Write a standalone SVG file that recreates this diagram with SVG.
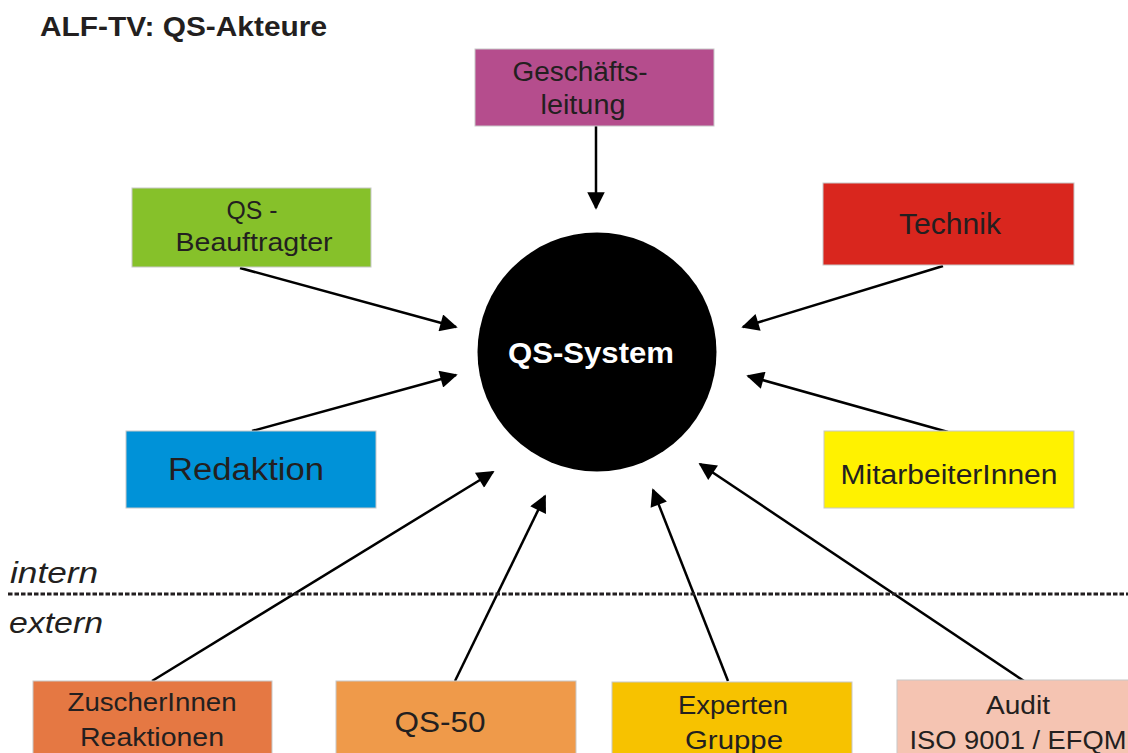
<svg xmlns="http://www.w3.org/2000/svg" width="1128" height="753" viewBox="0 0 1128 753">
<style>
.box{stroke:#c8c8c8;stroke-width:1}
.t{font-family:"Liberation Sans",Arial,sans-serif;fill:#231f20;text-anchor:middle}
.c{stroke:#000;stroke-width:2.5;fill:none;marker-end:url(#ah)}
.lbl{font-family:"Liberation Sans",Arial,sans-serif;font-style:italic;font-size:30px;fill:#231f20}
</style>
<defs>
<marker id="ah" viewBox="0 0 10 10" refX="9" refY="5" markerWidth="7.5" markerHeight="7" markerUnits="strokeWidth" orient="auto">
<path d="M0,0 L10,5 L0,10 z" fill="#000"/>
</marker>
</defs>
<rect width="1128" height="753" fill="#fff"/>
<text x="40" y="36" font-family="Liberation Sans,Arial,sans-serif" font-weight="bold" font-size="28" fill="#231f20" textLength="287" lengthAdjust="spacingAndGlyphs">ALF-TV: QS-Akteure</text>

<g id="connectors">
<line class="c" x1="596" y1="126" x2="596" y2="208"/>
<line class="c" x1="240" y1="268" x2="456" y2="327"/>
<line class="c" x1="943" y1="266" x2="743" y2="327"/>
<line class="c" x1="252" y1="431" x2="456" y2="375"/>
<line class="c" x1="948" y1="432" x2="748" y2="376"/>
<line class="c" x1="152" y1="681" x2="493" y2="472"/>
<line class="c" x1="455" y1="681" x2="545" y2="496"/>
<line class="c" x1="728" y1="681" x2="653" y2="490"/>
<line class="c" x1="1024" y1="681" x2="700" y2="464"/>
</g>

<g id="divider">
<line x1="8" y1="594" x2="1128" y2="594" stroke="#231f20" stroke-width="3" stroke-dasharray="4.5,2"/>
<text class="lbl" x="10" y="583" textLength="88" lengthAdjust="spacingAndGlyphs">intern</text>
<text class="lbl" x="9" y="633" textLength="94" lengthAdjust="spacingAndGlyphs">extern</text>
</g>

<g id="qs-system">
<circle cx="597" cy="352" r="119.5" fill="#000"/>
<text x="591" y="363" font-family="Liberation Sans,Arial,sans-serif" font-weight="bold" font-size="30" fill="#fff" text-anchor="middle" textLength="166" lengthAdjust="spacingAndGlyphs">QS-System</text>
</g>

<g id="geschaeftsleitung">
<rect class="box" x="475" y="49" width="239" height="77" fill="#b54d8d"/>
<text class="t" font-size="27" x="580" y="81" textLength="135" lengthAdjust="spacingAndGlyphs">Geschäfts-</text>
<text class="t" font-size="27" x="583" y="114" textLength="85" lengthAdjust="spacingAndGlyphs">leitung</text>
</g>

<g id="qs-beauftragter">
<rect class="box" x="132" y="188" width="239" height="79" fill="#86c12a"/>
<text class="t" font-size="26" x="252" y="219" textLength="51" lengthAdjust="spacingAndGlyphs">QS -</text>
<text class="t" font-size="26" x="254" y="251" textLength="157" lengthAdjust="spacingAndGlyphs">Beauftragter</text>
</g>

<g id="technik">
<rect class="box" x="823" y="183" width="251" height="82" fill="#d9261e"/>
<text class="t" font-size="29" x="950" y="234" textLength="102" lengthAdjust="spacingAndGlyphs">Technik</text>
</g>

<g id="redaktion">
<rect class="box" x="126" y="431" width="250" height="77" fill="#0092d8"/>
<text class="t" font-size="31" x="246" y="480" textLength="156" lengthAdjust="spacingAndGlyphs">Redaktion</text>
</g>

<g id="mitarbeiterinnen">
<rect class="box" x="824" y="431" width="250" height="77" fill="#fff200"/>
<text class="t" font-size="27" x="949" y="484" textLength="217" lengthAdjust="spacingAndGlyphs">MitarbeiterInnen</text>
</g>

<g id="zuschauerinnen">
<rect class="box" x="33" y="681" width="239" height="80" fill="#e57843"/>
<text class="t" font-size="26" x="152" y="711" textLength="169" lengthAdjust="spacingAndGlyphs">ZuscherInnen</text>
<text class="t" font-size="26" x="152" y="746" textLength="144" lengthAdjust="spacingAndGlyphs">Reaktionen</text>
</g>

<g id="qs-50">
<rect class="box" x="336" y="681" width="240" height="80" fill="#ef9a4a"/>
<text class="t" font-size="29" x="440" y="732" textLength="91" lengthAdjust="spacingAndGlyphs">QS-50</text>
</g>

<g id="experten">
<rect class="box" x="612" y="682" width="240" height="80" fill="#f7c200"/>
<text class="t" font-size="26" x="733" y="714" textLength="110" lengthAdjust="spacingAndGlyphs">Experten</text>
<text class="t" font-size="26" x="734" y="749" textLength="98" lengthAdjust="spacingAndGlyphs">Gruppe</text>
</g>

<g id="audit">
<rect class="box" x="897" y="680" width="240" height="80" fill="#f5c4b2"/>
<text class="t" font-size="26" x="1018" y="714" textLength="64" lengthAdjust="spacingAndGlyphs">Audit</text>
<text class="t" font-size="26" x="1018" y="749" textLength="217" lengthAdjust="spacingAndGlyphs">ISO 9001 / EFQM</text>
</g>
</svg>
